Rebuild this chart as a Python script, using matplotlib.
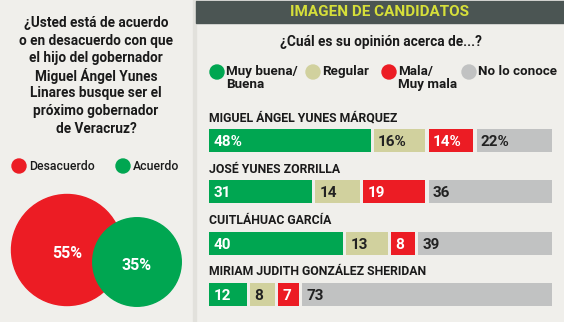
import matplotlib
matplotlib.use("Agg")
import matplotlib.pyplot as plt
from matplotlib.patches import Circle, Rectangle
import numpy as np

# ---------------- data ----------------
question_lines = ["¿Usted está de acuerdo", "o en desacuerdo con que", "el hijo del gobernador",
                  "Miguel Ángel Yunes", "Linares busque ser el", "próximo gobernador", "de Veracruz?"]
pie_labels = ["Desacuerdo", "Acuerdo"]
pie_values = [55, 35]
pie_colors = ["#ec1c24", "#00a651"]

title = "IMAGEN DE CANDIDATOS"
subtitle = "¿Cuál es su opinión acerca de...?"
candidates = ["MIGUEL ÁNGEL YUNES MÁRQUEZ", "JOSÉ YUNES ZORRILLA",
              "CUITLÁHUAC GARCÍA", "MIRIAM JUDITH GONZÁLEZ SHERIDAN"]
series_names = ["Muy buena/\nBuena", "Regular", "Mala/\nMuy mala", "No lo conoce"]
muy_buena = [48, 31, 40, 12]
regular = [16, 14, 13, 8]
mala = [14, 19, 8, 7]
no_conoce = [22, 36, 39, 73]
series_colors = ["#00a651", "#d1d19e", "#ec1c24", "#c1c2c2"]
text_colors = ["white", "#222222", "white", "#222222"]
first_row_pct = True

W, H = 564, 322
BG = "#f0efeb"
FONT = ["Roboto", "DejaVu Sans"]

fig = plt.figure(figsize=(W / 100, H / 100), dpi=100, facecolor=BG)

def fx(px):
    return px / W

def fy(py):
    return 1 - py / H

# background layout axes (pixel units)
lay = fig.add_axes([0, 0, 1, 1], zorder=0)
lay.set_axis_off()
lay.set_xlim(0, W)
lay.set_ylim(H, 0)
lay.add_patch(Rectangle((196, 1), W - 196, 22, color="#4b5553", zorder=2))
lay.add_patch(Rectangle((193, 0), 3, H, color="#e2e1dc", zorder=1))

fig.text(fx(380), fy(12), title, ha="center", va="center", color="#d6df3a",
         fontsize=11, fontweight="bold", family=FONT, zorder=5)
fig.text(fx(381), fy(42), subtitle, ha="center", va="center", color="#1a1a1a",
         fontsize=9.8, fontweight="bold", family=FONT, zorder=5)

# left question
for i, line in enumerate(question_lines):
    fig.text(fx(96), fy(23 + i * 17.6), line, ha="center", va="center", color="#1a1a1a",
             fontsize=9.8, fontweight="bold", family=FONT, zorder=5)

# left legend
leg_x = [19, 123]
for lx, lab, col in zip(leg_x, pie_labels, pie_colors):
    lay.add_patch(Circle((lx, 166), 7, color=col, zorder=3))
    lay.text(lx + 10, 166, lab, ha="left", va="center", fontsize=8.8, color="#1a1a1a",
             family=FONT, fontweight="medium", zorder=5)

# circles (area proportional)
cax = fig.add_axes([0, 0, 197 / W, 142 / H], zorder=2)
cax.set_xlim(0, 197)
cax.set_ylim(322, 180)
cax.set_axis_off()
k = 55.5 / np.sqrt(max(pie_values))
centers = [(67, 250), (137, 262)]
for (cx, cy), v, col in zip(centers, pie_values, pie_colors):
    cax.add_patch(Circle((cx, cy), k * np.sqrt(v), color=col, zorder=2))
    cax.text(cx, cy + 4, f"{v}%", ha="center", va="center", color="white",
             fontsize=11.5, fontweight="bold", family=FONT, zorder=3)

# right legend
leg_pos = [217, 313, 389, 469]
for lx, lab, col in zip(leg_pos, series_names, series_colors):
    lay.add_patch(Circle((lx, 72), 7, color=col, zorder=3))
    lay.text(lx + 9, 64.5, lab, ha="left", va="top", fontsize=9.6, color="#1a1a1a",
             family=FONT, fontweight="bold", zorder=5, linespacing=1.05)

# bars
spacing = 51.33
top_c = 140.5
bottom_px = 294.5 + spacing / 2
top_px = top_c - spacing / 2
bax = fig.add_axes([fx(209), fy(bottom_px), (552 - 209) / W, (bottom_px - top_px) / H], zorder=3)
bax.set_xlim(0, 100)
bax.set_ylim(len(candidates) - 0.5, -0.5)
bax.set_axis_off()
bax.patch.set_alpha(0)
series = [muy_buena, regular, mala, no_conoce]
gap = 0.9
ypos = np.arange(len(candidates))
left = np.zeros(len(candidates))
for si, (vals, col, tc) in enumerate(zip(series, series_colors, text_colors)):
    vals = np.array(vals, dtype=float)
    widths = vals - gap if si < len(series) - 1 else 100 - left
    bax.barh(ypos, widths, left=left, height=0.45, color=col, zorder=2)
    for r in range(len(candidates)):
        lab = f"{int(vals[r])}%" if (r == 0 and first_row_pct) else f"{int(vals[r])}"
        bax.text(left[r] + 1.3, ypos[r] + 0.03, lab, ha="left", va="center", color=tc,
                 fontsize=11, fontweight="bold", family=FONT, zorder=3)
    left = left + vals
for r, name in enumerate(candidates):
    bax.text(0, ypos[r] - 0.44, name, ha="left", va="center", color="#1a1a1a",
             fontsize=8.8, fontweight="bold", family=FONT, zorder=3)

fig.savefig("out.png", dpi=100, facecolor=BG)
